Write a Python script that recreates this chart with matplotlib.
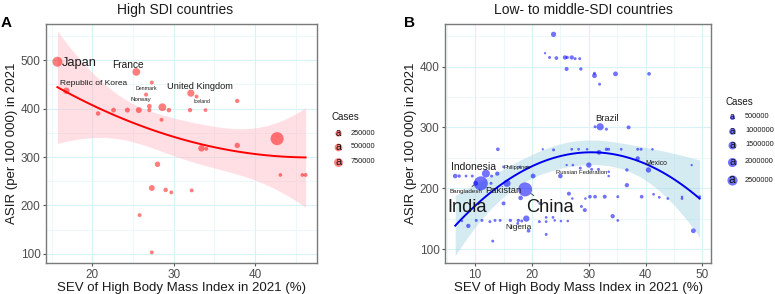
import numpy as np
import matplotlib
matplotlib.use("Agg")
import matplotlib.pyplot as plt

plt.rcParams['font.family'] = ['Liberation Sans', 'DejaVu Sans']

# ---------------- data: high SDI countries (panel A)
hi_sev = [15.7, 16.8, 25.4, 27.3, 26.6, 27.0, 27.0, 25.7, 24.3, 22.6, 20.7, 28.6,
          29.4, 28.5, 32.1, 32.8, 32.0, 33.9, 37.8, 42.7, 37.8, 33.4, 34.0, 28.0,
          27.3, 29.0, 29.7, 32.2, 25.8, 27.3, 43.1, 45.8, 46.2]
hi_asir = [497, 437, 476, 454, 429, 405, 397, 397, 397, 397, 390, 403,
           397, 377, 432, 425, 397, 397, 416, 338, 324, 318, 317, 285,
           236, 232, 227, 231, 180, 103, 263, 263, 263]
hi_cases = [1.80, 0.60, 1.00, 0.06, 0.08, 0.20, 0.08, 0.45, 0.25, 0.20, 0.15, 1.00,
            0.15, 0.05, 0.80, 0.05, 0.12, 0.02, 0.12, 3.30, 0.35, 0.60, 0.05, 0.35,
            0.45, 0.15, 0.05, 0.05, 0.05, 0.05, 0.01, 0.01, 0.05]  # millions
hi_names = ['Japan', 'Republic of Korea', 'France', 'Denmark', '', 'Norway', '', '', '', '', '', '',
            '', '', 'United Kingdom', 'Iceland', '', '', '', '', '', '', '', '',
            '', '', '', '', '', '', '', '', '']

# ---------------- data: low- to middle-SDI countries (panel B)
lo_sev = [23.8, 22.3, 23.1, 24.3, 25.8, 26.2, 27.0, 27.6, 28.4, 26.1, 28.6, 31.0, 31.0, 31.9,
          34.7, 40.6,
          32.0, 31.1, 33.1, 37.0,
          14.0, 21.9, 23.8, 27.0, 28.2, 29.7, 31.8, 33.1, 33.5, 35.7, 38.6, 39.2, 41.2,
          26.1, 27.2, 30.0, 30.5, 28.5, 31.7, 33.5, 33.5, 25.0, 38.6, 40.5, 36.7, 48.1,
          36.7, 41.4, 42.4, 43.9, 46.4, 46.4, 49.5, 39.3, 35.1, 32.8, 31.1, 30.2, 29.4,
          27.1, 26.5, 28.7, 29.3, 34.2, 35.1, 48.4,
          18.8, 18.0, 11.0, 10.1, 11.9, 12.9, 13.9, 12.8, 15.6, 15.0, 6.5, 7.2, 8.4, 9.5,
          20.2, 19.2, 17.8, 15.0, 21.4, 7.7, 8.8, 10.2, 11.2, 12.6, 13.5, 14.4, 16.2, 17.6,
          18.2, 19.0, 17.5, 19.4, 13.1, 21.3, 22.5, 22.5, 23.7, 24.0, 25.1, 26.3, 22.5]
lo_asir = [453, 422, 415, 414, 415, 415, 415, 413, 413, 396, 396, 385, 389, 371,
           388, 388,
           301, 301, 297, 300,
           264, 264, 263, 264, 264, 264, 259, 264, 264, 264, 264, 264, 264,
           238, 238, 238, 231, 233, 231, 227, 220, 220, 249, 230, 230, 238,
           205, 190, 185, 183, 183, 186, 186, 186, 186, 186, 186, 186, 183,
           183, 191, 170, 164, 154, 147, 130,
           198, 184, 208, 208, 224, 220, 224, 208, 208, 235, 220, 220, 220, 220,
           220, 235, 235, 175, 175, 146, 138, 147, 147, 145, 147, 147, 147, 147,
           146, 150, 142, 130, 113, 145, 152, 145, 152, 147, 146, 146, 124]
lo_cases = [1.0, 0.05, 0.2, 0.4, 0.6, 0.3, 0.6, 0.2, 0.2, 0.5, 0.3, 0.8, 0.2, 0.2,
            0.8, 0.4,
            2.0, 0.2, 0.2, 0.5,
            0.4, 0.05, 0.2, 0.15, 0.15, 0.1, 0.8, 0.3, 0.2, 0.15, 0.2, 0.2, 0.1,
            0.05, 0.1, 1.0, 0.2, 0.2, 0.2, 0.1, 0.1, 0.7, 0.6, 1.0, 0.3, 0.05,
            0.6, 0.15, 0.15, 0.15, 0.15, 0.05, 0.2, 0.4, 0.2, 0.5, 0.4, 0.4, 0.1,
            0.1, 0.5, 0.2, 0.5, 0.6, 0.15, 0.8,
            8.0, 0.7, 8.0, 0.8, 2.5, 0.2, 0.6, 0.2, 2.0, 0.15, 0.7, 0.3, 0.15, 0.2,
            0.8, 0.05, 0.05, 0.5, 0.2, 0.05, 0.6, 0.2, 0.2, 0.2, 0.2, 0.2, 0.3, 0.3,
            0.2, 1.5, 0.2, 0.4, 0.2, 0.2, 0.15, 0.15, 0.15, 0.1, 0.1, 0.1, 0.2]
lo_names = [''] * len(lo_sev)
lo_names[16] = 'Brazil'
lo_names[41] = 'Russian Federation'
lo_names[43] = 'Mexico'
lo_names[66] = 'China'
lo_names[68] = 'India'
lo_names[69] = 'Bangladesh'
lo_names[70] = 'Indonesia'
lo_names[72] = 'Philippines'
lo_names[74] = 'Pakistan'
lo_names[95] = 'Nigeria'

hi_legend = [250000, 500000, 750000]
lo_legend = [500000, 1000000, 1500000, 2000000, 2500000]

# label placement (layout only)
hi_label_pos = {'Japan': (16.3, 495, 'left'), 'France': (24.4, 490, 'center'),
                'Republic of Korea': (16.0, 451, 'left'), 'Denmark': (26.6, 442, 'center'),
                'Norway': (25.9, 418, 'center'), 'United Kingdom': (33.25, 445, 'center'),
                'Iceland': (33.5, 414, 'center')}
lo_label_pos = {'Brazil': (33.3, 314, 'center'), 'Indonesia': (9.65, 235, 'center'),
                'Philippines': (17.4, 234, 'center'), 'Russian Federation': (28.8, 226, 'center'),
                'Mexico': (41.9, 240, 'center'), 'Bangladesh': (8.4, 194, 'center'),
                'Pakistan': (15.0, 196, 'center'), 'India': (8.65, 169, 'center'),
                'China': (23.1, 169, 'center'), 'Nigeria': (17.6, 136, 'center')}
with_segment = ['China', 'Bangladesh']


def hi_size(c):
    return 6.8 + 24.8 * np.asarray(c)


def lo_size(c):
    return 2.1 + 12.45 * np.asarray(c)


def poly_fit(x, y, xs, deg=2):
    # least squares y ~ poly(x, deg) with 95% confidence band
    x = np.asarray(x, float)
    y = np.asarray(y, float)
    X = np.vander(x, deg + 1)
    beta, *_ = np.linalg.lstsq(X, y, rcond=None)
    df = len(x) - (deg + 1)
    sigma = np.sqrt(np.sum((y - X @ beta) ** 2) / df)
    Xs = np.vander(xs, deg + 1)
    se = sigma * np.sqrt(np.einsum('ij,jk,ik->i', Xs, np.linalg.inv(X.T @ X), Xs))
    z = 1.959964
    t = z + (z ** 3 + z) / (4 * df) + (5 * z ** 5 + 16 * z ** 3 + 3 * z) / (96 * df ** 2)
    fit = Xs @ beta
    return fit, fit - t * se, fit + t * se


fig = plt.figure(figsize=(7.75, 2.94), dpi=100)
W, H = 775, 294


def style_axes(ax, xlim, ylim, xmaj, xmin, ymaj, ymin):
    ax.set_xlim(*xlim)
    ax.set_ylim(*ylim)
    ax.set_xticks(xmaj)
    ax.set_xticks(xmin, minor=True)
    ax.set_yticks(ymaj)
    ax.set_yticks(ymin, minor=True)
    ax.grid(which='major', color='#d9f2f5', lw=0.8)
    ax.grid(which='minor', color='#e8f7f9', lw=0.6)
    ax.set_axisbelow(True)
    ax.tick_params(which='major', length=2.5, color='#555555', labelsize=8.5,
                   labelcolor='#4d4d4d', pad=1.5)
    ax.tick_params(which='minor', length=0)
    for sp in ax.spines.values():
        sp.set_color('#7a7a7a')
        sp.set_linewidth(1.0)
    ax.set_xlabel('SEV of High Body Mass Index in 2021 (%)', fontsize=9.5, labelpad=1, color='#1a1a1a')
    ax.set_ylabel('ASIR (per 100 000) in 2021', fontsize=9.5, labelpad=2, color='#1a1a1a')


def draw_panel(ax, sev, asir, cases, names, sizefn, pcol, palpha, lcol, bandcol, balpha, label_pos):
    s = sizefn(cases)
    xs = np.linspace(min(sev), max(sev), 80)
    fit, lo, hi = poly_fit(sev, asir, xs)
    ax.fill_between(xs, lo, hi, color=bandcol, alpha=balpha, lw=0, zorder=1)
    ax.scatter(sev, asir, s=s, color=pcol, alpha=palpha, lw=0, zorder=2)
    ax.plot(xs, fit, color=lcol, lw=1.4, zorder=3)
    for i, nm in enumerate(names):
        if not nm:
            continue
        lx, ly, ha = label_pos[nm]
        fs = 1.3 * np.sqrt(s[i])
        if nm in with_segment:
            ax.annotate(nm, xy=(sev[i], asir[i]), xytext=(lx, ly), fontsize=fs, ha=ha, va='center',
                        color='#1a1a1a', zorder=4,
                        arrowprops=dict(arrowstyle='-', color='#333333', lw=0.6,
                                        shrinkA=0, shrinkB=np.sqrt(s[i]) / 2))
        else:
            ax.text(lx, ly, nm, fontsize=fs, ha=ha, va='center', color='#1a1a1a', zorder=4)


# panel A
axA = fig.add_axes([46 / W, 1 - 263 / H, 271 / W, 239 / H])
style_axes(axA, (14.3, 47.6), (81, 575), [20, 30, 40], [15, 25, 35, 45],
           [100, 200, 300, 400, 500], [150, 250, 350, 450, 550])
draw_panel(axA, hi_sev, hi_asir, hi_cases, hi_names, hi_size, '#ff0000', 0.5,
           '#ff0000', '#ffc0cb', 0.5, hi_label_pos)

# panel B
axB = fig.add_axes([445 / W, 1 - 263 / H, 266 / W, 239 / H])
style_axes(axB, (4.7, 51.5), (77, 470), [10, 20, 30, 40, 50], [5, 15, 25, 35, 45],
           [100, 200, 300, 400], [150, 250, 350, 450])
draw_panel(axB, lo_sev, lo_asir, lo_cases, lo_names, lo_size, '#0000ff', 0.55,
           '#0000ee', '#add8e6', 0.5, lo_label_pos)

# overlay in pixel coordinates for titles, tags and legends
ov = fig.add_axes([0, 0, 1, 1], facecolor='none')
ov.set_xlim(0, W)
ov.set_ylim(H, 0)
ov.axis('off')

ov.text(175, 10, 'High SDI countries', fontsize=10, ha='center', va='center', color='#1a1a1a')
ov.text(583, 10, 'Low- to middle-SDI countries', fontsize=10, ha='center', va='center', color='#1a1a1a')
ov.text(1, 23, 'A', fontsize=11, fontweight='bold', ha='left', va='center')
ov.text(404, 23, 'B', fontsize=11, fontweight='bold', ha='left', va='center')


def draw_legend(x0, ytitle, ys, values, sizefn, pcol, palpha):
    ov.text(x0, ytitle, 'Cases', fontsize=7, ha='left', va='center', color='#1a1a1a')
    for yy, v in zip(ys, values):
        s = float(sizefn(v / 1e6))
        ov.scatter([x0 + 7.3], [yy], s=s * 1.6, color=pcol, alpha=palpha, lw=0)
        ov.text(x0 + 7.3, yy + 0.2, 'a', fontsize=4 + 0.8 * np.sqrt(s), ha='center', va='center',
                color='#111111')
        ov.text(x0 + 20, yy, str(v), fontsize=5.3, ha='left', va='center', color='#1a1a1a')


draw_legend(331, 117.5, [133.3, 146.7, 161.7], hi_legend, hi_size, '#ff0000', 0.5)
draw_legend(725, 102.3, [116.7, 131, 145, 161.7, 180], lo_legend, lo_size, '#0000ff', 0.55)

fig.savefig('out.png', dpi=100)
